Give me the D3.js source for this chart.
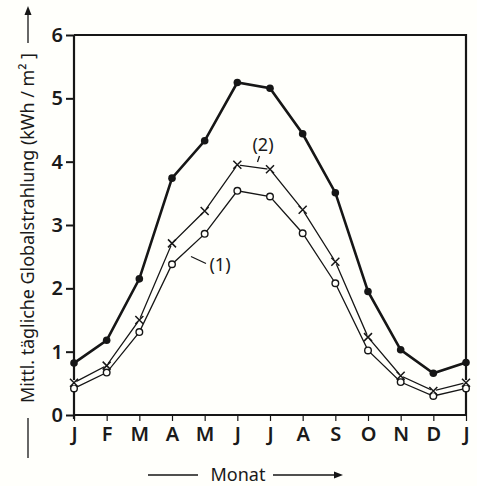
<!DOCTYPE html>
<html>
<head>
<meta charset="utf-8">
<script src="https://cdn.jsdelivr.net/npm/d3@7"></script>
<style>
  html, body { margin: 0; padding: 0; background: #fffffb; }
  svg { display: block; }
  text { font-family: "Noto Sans", "DejaVu Sans", sans-serif; fill: #1a1a1a; }
</style>
</head>
<body>
<div id="chart"></div>
<script>
// months, Jan repeated at the end
var months = ["J", "F", "M", "A", "M", "J", "J", "A", "S", "O", "N", "D", "J"];

// top curve (filled dots)
var seriesTop = [0.82, 1.18, 2.15, 3.74, 4.33, 5.25, 5.16, 4.44, 3.51, 1.95, 1.03, 0.66, 0.83];
// curve (2), crosses
var series2 = [0.51, 0.78, 1.50, 2.71, 3.22, 3.95, 3.88, 3.24, 2.42, 1.23, 0.62, 0.38, 0.51];
// curve (1), open circles
var series1 = [0.42, 0.67, 1.31, 2.38, 2.86, 3.54, 3.45, 2.87, 2.08, 1.02, 0.52, 0.30, 0.42];

var yTicks = [0, 1, 2, 3, 4, 5, 6];

var W = 477, H = 486
  , margin = {left: 74, top: 35, right: 11, bottom: 71}
  , ink = "#161616";

var svg = d3.select("#chart").append("svg")
  .attr("width", W)
  .attr("height", H);

var x = d3.scaleLinear().domain([0, months.length - 1]).range([margin.left, W - margin.right]);
var y = d3.scaleLinear().domain([0, 6]).range([H - margin.bottom, margin.top]);

//axes
var yAxis = svg.append("g")
  .attr("transform", "translate(" + margin.left + ",0)")
  .call(d3.axisLeft(y).tickValues(yTicks).tickSize(8).tickPadding(3).tickFormat(d3.format("d")));

var xAxis = svg.append("g")
  .attr("transform", "translate(0," + y(0) + ")")
  .call(d3.axisBottom(x).tickValues(d3.range(months.length)).tickSize(6).tickPadding(6)
    .tickFormat(function(i) { return months[i]; }));

[yAxis, xAxis].forEach(function(g) {
  g.select(".domain").attr("stroke", ink).attr("stroke-width", 2.2);
  g.selectAll(".tick line").attr("stroke", ink).attr("stroke-width", 2);
  g.selectAll(".tick text")
    .style("font-size", "20px")
    .style("font-weight", 600)
    .attr("fill", ink);
});
xAxis.selectAll(".tick line").attr("stroke-width", 1.2);
xAxis.select(".domain").attr("d", "M" + x(0) + ",0H" + x(12));
yAxis.select(".domain").attr("d", "M0," + (y(0) + 4) + "V" + y(6));

// top and right border of the box
svg.append("path")
  .attr("d", "M" + x(0) + "," + y(6) + "H" + x(12) + "V" + y(0))
  .attr("fill", "none")
  .attr("stroke", ink)
  .attr("stroke-width", 2.2);

var line = d3.line()
  .x(function(d, i) { return x(i); })
  .y(function(d) { return y(d); });

// curve (1)
svg.append("path").datum(series1)
  .attr("d", line).attr("fill", "none")
  .attr("stroke", ink).attr("stroke-width", 1.3);

// curve (2)
svg.append("path").datum(series2)
  .attr("d", line).attr("fill", "none")
  .attr("stroke", ink).attr("stroke-width", 1.3);

// top curve
svg.append("path").datum(seriesTop)
  .attr("d", line).attr("fill", "none")
  .attr("stroke", ink).attr("stroke-width", 2.6);

svg.append("g").selectAll("circle")
  .data(series1)
  .enter().append("circle")
    .attr("cx", function(d, i) { return x(i); })
    .attr("cy", function(d) { return y(d); })
    .attr("r", 3.3)
    .attr("fill", "#fffffb")
    .attr("stroke", ink)
    .attr("stroke-width", 1.4);

var cross = svg.append("g").selectAll("g")
  .data(series2)
  .enter().append("g")
    .attr("transform", function(d, i) { return "translate(" + x(i) + "," + y(d) + ")"; });
cross.append("circle").attr("r", 2.6).attr("fill", "#fffffb");
cross.append("path")
  .attr("d", "M-4,-4L4,4M-4,4L4,-4")
  .attr("stroke", ink)
  .attr("stroke-width", 1.5);

svg.append("g").selectAll("circle")
  .data(seriesTop)
  .enter().append("circle")
    .attr("cx", function(d, i) { return x(i); })
    .attr("cy", function(d) { return y(d); })
    .attr("r", 3.8)
    .attr("fill", ink);

// curve labels with leader lines
svg.append("text")
  .attr("x", 263).attr("y", 151)
  .attr("text-anchor", "middle")
  .style("font-size", "18px")
  .text("(2)");
svg.append("line")
  .attr("x1", 259.5).attr("y1", 156).attr("x2", 257.5).attr("y2", 162)
  .attr("stroke", ink).attr("stroke-width", 1.3);

svg.append("text")
  .attr("x", 220).attr("y", 271)
  .attr("text-anchor", "middle")
  .style("font-size", "18px")
  .text("(1)");
svg.append("line")
  .attr("x1", 191).attr("y1", 256.5).attr("x2", 206).attr("y2", 263.5)
  .attr("stroke", ink).attr("stroke-width", 1.3);

// x title with dash and arrow
svg.append("text")
  .attr("x", 238).attr("y", 481)
  .attr("text-anchor", "middle")
  .style("font-size", "18px")
  .text("Monat");
svg.append("line")
  .attr("x1", 148).attr("y1", 475).attr("x2", 198).attr("y2", 475)
  .attr("stroke", ink).attr("stroke-width", 1.3);
svg.append("line")
  .attr("x1", 273).attr("y1", 475).attr("x2", 338).attr("y2", 475)
  .attr("stroke", ink).attr("stroke-width", 1.3);
svg.append("path")
  .attr("d", "M343,475L334,471.5L334,478.5Z")
  .attr("fill", ink);

// y title, rotated
var yTitle = svg.append("g").attr("transform", "translate(34,0)");
yTitle.append("text")
  .attr("transform", "rotate(-90)")
  .attr("x", -403).attr("y", 0)
  .attr("text-anchor", "start")
  .attr("textLength", 350)
  .style("font-size", "18px")
  .text("Mittl. tägliche  Globalstrahlung (kWh / m² ]");
yTitle.append("line")
  .attr("x1", -6).attr("y1", 418).attr("x2", -6).attr("y2", 458)
  .attr("stroke", ink).attr("stroke-width", 1.3);
yTitle.append("line")
  .attr("x1", -6).attr("y1", 43).attr("x2", -6).attr("y2", 12)
  .attr("stroke", ink).attr("stroke-width", 1.3);
yTitle.append("path")
  .attr("d", "M-6,6L-9.5,15L-2.5,15Z")
  .attr("fill", ink);
</script>
</body>
</html>
